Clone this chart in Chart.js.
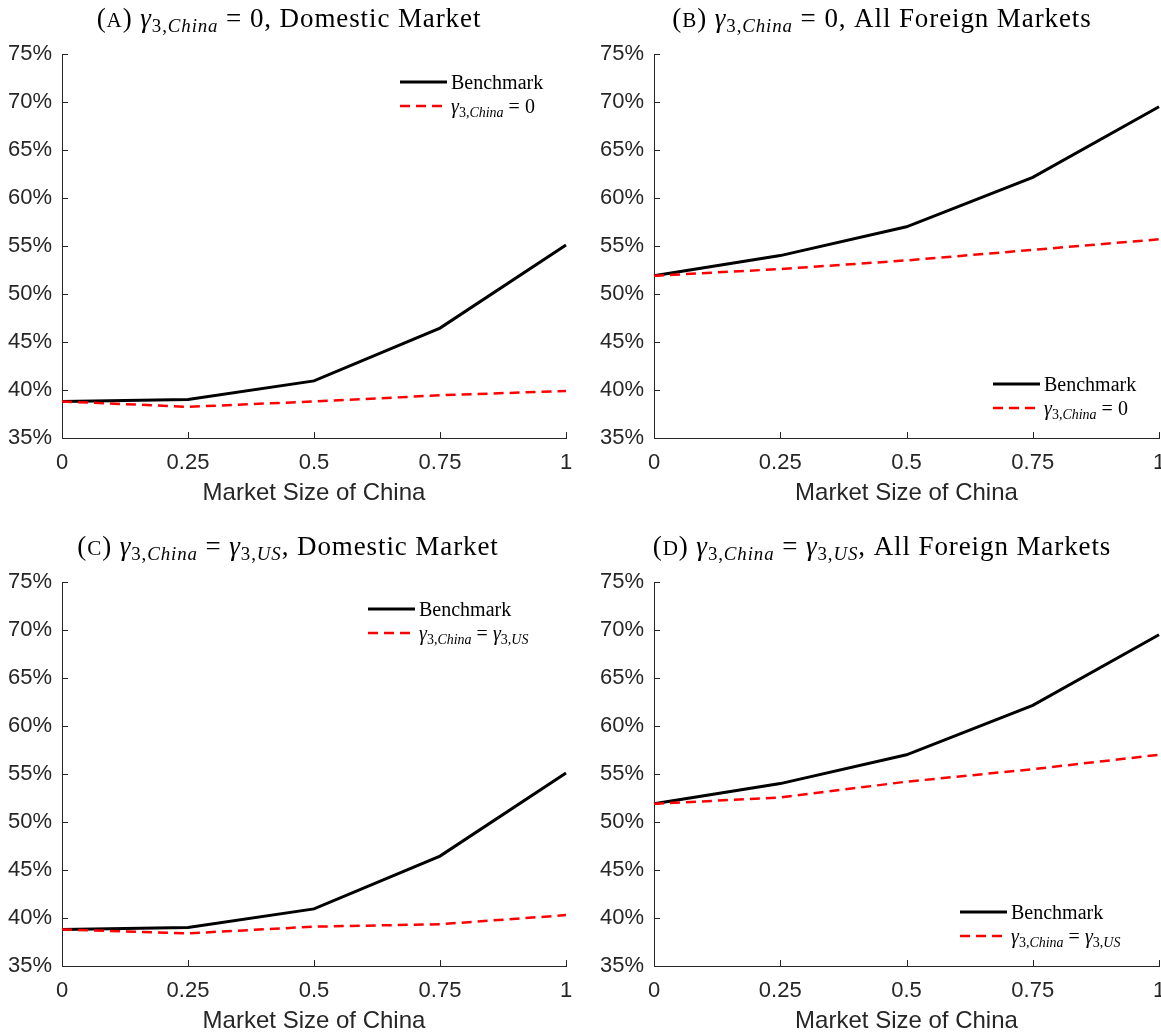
<!DOCTYPE html>
<html>
<head>
<meta charset="utf-8">
<script src="https://cdn.jsdelivr.net/npm/chart.js@4.4.1/dist/chart.umd.min.js"></script>
<style>
  html, body { margin: 0; padding: 0; background: #fff; overflow: hidden; }
  #fig { position: relative; width: 1161px; height: 1034px; }
  .panel { position: absolute; }
  canvas { display: block; }
</style>
</head>
<body>
<div id="fig">
  <div class="panel" style="left:0;top:0"><canvas id="panelA" width="580" height="528"></canvas></div>
  <div class="panel" style="left:580px;top:0"><canvas id="panelB" width="581" height="528"></canvas></div>
  <div class="panel" style="left:0;top:528px"><canvas id="panelC" width="580" height="512"></canvas></div>
  <div class="panel" style="left:580px;top:528px"><canvas id="panelD" width="581" height="512"></canvas></div>
</div>
<script>
// Market size of China (x axis) and shares in percent (y axis)
const marketSize = [0, 0.25, 0.5, 0.75, 1];
const xTickValues = [0, 0.25, 0.5, 0.75, 1];
const xTickLabels = ['0', '0.25', '0.5', '0.75', '1'];
const yTickValues = [35, 40, 45, 50, 55, 60, 65, 70, 75];
const yTickLabels = ['35%', '40%', '45%', '50%', '55%', '60%', '65%', '70%', '75%'];
const xAxisTitle = 'Market Size of China';

// Domestic market
const domesticBenchmark = [38.8, 39.0, 40.95, 46.45, 55.1];
const domesticGammaZero = [38.8, 38.25, 38.8, 39.45, 39.9];
const domesticGammaUS = [38.8, 38.4, 39.1, 39.35, 40.3];
// All foreign markets
const foreignBenchmark = [51.9, 54.0, 57.0, 62.15, 69.5];
const foreignGammaZero = [51.9, 52.6, 53.5, 54.6, 55.7];
const foreignGammaUS = [51.9, 52.55, 54.2, 55.5, 57.0];

const benchmarkLabel = 'Benchmark';

const SERIF = '"Liberation Serif", "Times New Roman", serif';
const SANS = '"Liberation Sans", Arial, Helvetica, sans-serif';
const AXIS_GRAY = '#262626';

// Rich-text pieces: gamma with a subscript
const gammaChina = () => [
  { t: 'γ', italic: true },
  { t: '3,', scale: 0.7, dy: 0.2 },
  { t: 'China', italic: true, scale: 0.7, dy: 0.2 }
];
const gammaUS = () => [
  { t: 'γ', italic: true },
  { t: '3,', scale: 0.7, dy: 0.2 },
  { t: 'US', italic: true, scale: 0.7, dy: 0.2 }
];
const panelLetter = (l) => [{ t: '(' }, { t: l, scale: 0.78 }, { t: ') ' }];

function drawRich(ctx, segs, x, y, size, align, spacing) {
  const fontOf = s => (s.italic ? 'italic ' : '') + (size * (s.scale || 1)).toFixed(1) + 'px ' + SERIF;
  ctx.letterSpacing = (spacing || 0) + 'px';
  const widths = segs.map(s => { ctx.font = fontOf(s); return ctx.measureText(s.t).width; });
  const total = widths.reduce((a, b) => a + b, 0);
  let cx = align === 'center' ? x - total / 2 : x;
  ctx.textAlign = 'left';
  ctx.textBaseline = 'alphabetic';
  ctx.fillStyle = '#000';
  segs.forEach((s, i) => {
    ctx.font = fontOf(s);
    ctx.fillText(s.t, cx, y + (s.dy || 0) * size);
    cx += widths[i];
  });
  ctx.letterSpacing = '0px';
}

const panels = [
  {
    id: 'panelA', h: 528, left: 62, right: 14,
    title: [...panelLetter('A'), ...gammaChina(), { t: ' = 0, Domestic Market' }],
    titleX: 289,
    altLabel: [...gammaChina(), { t: ' = 0' }],
    bench: domesticBenchmark, alt: domesticGammaZero,
    legend: { x: 400, y: 82 }
  },
  {
    id: 'panelB', h: 528, left: 74, right: 2,
    title: [...panelLetter('B'), ...gammaChina(), { t: ' = 0, All Foreign Markets' }],
    titleX: 302,
    altLabel: [...gammaChina(), { t: ' = 0' }],
    bench: foreignBenchmark, alt: foreignGammaZero,
    legend: { x: 413, y: 384 }
  },
  {
    id: 'panelC', h: 512, left: 62, right: 14,
    title: [...panelLetter('C'), ...gammaChina(), { t: ' = ' }, ...gammaUS(), { t: ', Domestic Market' }],
    titleX: 288,
    altLabel: [...gammaChina(), { t: ' = ' }, ...gammaUS()],
    bench: domesticBenchmark, alt: domesticGammaUS,
    legend: { x: 368, y: 81 }
  },
  {
    id: 'panelD', h: 512, left: 74, right: 2,
    title: [...panelLetter('D'), ...gammaChina(), { t: ' = ' }, ...gammaUS(), { t: ', All Foreign Markets' }],
    titleX: 302,
    altLabel: [...gammaChina(), { t: ' = ' }, ...gammaUS()],
    bench: foreignBenchmark, alt: foreignGammaUS,
    legend: { x: 380, y: 384 }
  }
];

const PLOT_TOP = 54;
const PLOT_BOTTOM = 438;
const TITLE_SIZE = 27;
const TITLE_SPACING = 0.9;
const TITLE_BASELINE = 27;
const LEGEND_SIZE = 20;

// Tick marks drawn inward from the axis lines
const inwardTicks = {
  id: 'inwardTicks',
  afterDraw(chart) {
    const { ctx, chartArea: a, scales: { x, y } } = chart;
    ctx.save();
    ctx.strokeStyle = AXIS_GRAY;
    ctx.lineWidth = 1;
    ctx.beginPath();
    xTickValues.forEach(v => {
      const px = Math.round(x.getPixelForValue(v)) + 0.5;
      ctx.moveTo(px, a.bottom);
      ctx.lineTo(px, a.bottom - 6);
    });
    yTickValues.forEach(v => {
      const py = Math.round(y.getPixelForValue(v)) + 0.5;
      ctx.moveTo(a.left, py);
      ctx.lineTo(a.left + 6, py);
    });
    ctx.stroke();
    ctx.restore();
  }
};

// Panel heading and line legend with subscripted labels
const richText = {
  id: 'richText',
  afterDraw(chart, args, opts) {
    const ctx = chart.ctx;
    const p = opts.panel;
    ctx.save();
    drawRich(ctx, p.title, p.titleX, TITLE_BASELINE, TITLE_SIZE, 'center', TITLE_SPACING);

    const items = [
      { ds: chart.data.datasets[0], label: [{ t: benchmarkLabel }] },
      { ds: chart.data.datasets[1], label: p.altLabel }
    ];
    items.forEach((it, i) => {
      const ly = p.legend.y + i * 24;
      ctx.beginPath();
      ctx.strokeStyle = it.ds.borderColor;
      ctx.lineWidth = it.ds.borderWidth;
      ctx.setLineDash(it.ds.borderDash || []);
      ctx.moveTo(p.legend.x, ly);
      ctx.lineTo(p.legend.x + 47, ly);
      ctx.stroke();
      ctx.setLineDash([]);
      drawRich(ctx, it.label, p.legend.x + 51, ly + 7, LEGEND_SIZE, 'left', 0);
    });
    ctx.restore();
  }
};

panels.forEach(p => {
  const titlePadBottom = p.h - PLOT_BOTTOM - 55 - 14.4;
  new Chart(document.getElementById(p.id), {
    type: 'line',
    data: {
      datasets: [
        {
          label: benchmarkLabel,
          data: marketSize.map((x, i) => ({ x, y: p.bench[i] })),
          borderColor: '#000000',
          borderWidth: 3,
          pointRadius: 0,
          tension: 0,
          clip: false,
          order: 1
        },
        {
          label: 'gamma',
          data: marketSize.map((x, i) => ({ x, y: p.alt[i] })),
          borderColor: '#ff0000',
          borderWidth: 2.5,
          borderDash: [10, 6],
          pointRadius: 0,
          tension: 0,
          clip: false,
          order: 0
        }
      ]
    },
    options: {
      responsive: false,
      animation: false,
      events: [],
      layout: { padding: { top: PLOT_TOP, right: p.right, bottom: 0, left: 0 } },
      plugins: {
        legend: { display: false },
        tooltip: { enabled: false },
        title: { display: false },
        richText: { panel: p }
      },
      scales: {
        x: {
          type: 'linear',
          min: 0,
          max: 1,
          afterBuildTicks: s => { s.ticks = xTickValues.map(v => ({ value: v })); },
          ticks: {
            autoSkip: false,
            maxRotation: 0,
            padding: 12,
            color: AXIS_GRAY,
            font: { family: SANS, size: 22 },
            callback: (v, i) => xTickLabels[i]
          },
          grid: { display: false, drawTicks: false, tickLength: 0 },
          border: { display: true, color: AXIS_GRAY, width: 1 },
          title: {
            display: true,
            text: xAxisTitle,
            color: AXIS_GRAY,
            font: { family: SANS, size: 24 },
            padding: { top: 0, bottom: titlePadBottom }
          },
          afterFit: s => {
            s.height = p.h - PLOT_BOTTOM;
            s.paddingLeft = 0; s.paddingRight = 0; s.paddingTop = 0; s.paddingBottom = 0;
          }
        },
        y: {
          type: 'linear',
          min: 35,
          max: 75,
          afterBuildTicks: s => { s.ticks = yTickValues.map(v => ({ value: v })); },
          ticks: {
            autoSkip: false,
            padding: 10,
            color: AXIS_GRAY,
            font: { family: SANS, size: 22 },
            callback: (v, i) => yTickLabels[i]
          },
          grid: { display: false, drawTicks: false, tickLength: 0 },
          border: { display: true, color: AXIS_GRAY, width: 1 },
          afterFit: s => {
            s.width = p.left;
            s.paddingLeft = 0; s.paddingRight = 0; s.paddingTop = 0; s.paddingBottom = 0;
          }
        }
      }
    },
    plugins: [inwardTicks, richText]
  });
});
</script>
</body>
</html>
